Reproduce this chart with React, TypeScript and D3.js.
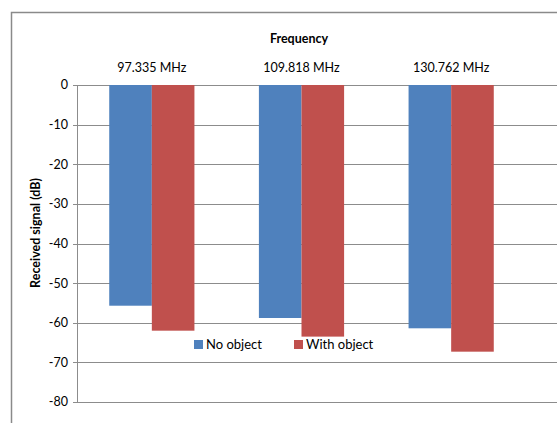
import React from "react";
import * as d3 from "d3";

const categories = ["97.335 MHz", "109.818 MHz", "130.762 MHz"];
const seriesNames = ["No object", "With object"];
const noObject = [-55.7, -58.8, -61.4];
const withObject = [-62.0, -63.5, -67.3];
const yTicks = [0, -10, -20, -30, -40, -50, -60, -70, -80];
const colors = ["#4F81BD", "#C0504D"];

const W = 557;
const H = 423;
const FONT = "Lato, 'Open Sans', sans-serif";

export default function App() {
  const series = [noObject, withObject];
  const y = d3.scaleLinear().domain([0, -80]).range([85, 402]);
  const x = d3.scaleBand<string>().domain(categories).range([77, 526]).paddingInner(0).paddingOuter(0);
  const barW = 42.6;
  const plotLeft = 77;

  return (
    <svg width={W} height={H} style={{ position: "absolute", left: 0, top: 0, background: "#fff" }} fontFamily={FONT}>
      <rect x={0} y={0} width={W} height={H} fill="#fff" />
      <rect x={11.5} y={12.5} width={W + 20} height={H + 20} fill="none" stroke="#8a8a8a" strokeWidth={1.5} />
      {yTicks.map((t) => (
        <line key={"g" + t} x1={plotLeft - 4} x2={W} y1={Math.round(y(t)) + 0.5} y2={Math.round(y(t)) + 0.5} stroke="#8c8c8c" strokeWidth={1} />
      ))}
      <line x1={plotLeft + 0.5} x2={plotLeft + 0.5} y1={y(0)} y2={y(-80)} stroke="#8c8c8c" strokeWidth={1} />
      {yTicks.map((t) => (
        <text key={"t" + t} x={68} y={y(t)} dy="0.35em" textAnchor="end" fontSize={12.5} fill="#000">
          {t}
        </text>
      ))}
      {categories.map((c, i) => {
        const cx = (x(c) as number) + x.bandwidth() / 2;
        return series.map((s, j) => {
          const bx = j === 0 ? cx - barW : cx;
          return (
            <rect key={c + j} x={bx} y={y(0)} width={barW} height={y(s[i]) - y(0)} fill={colors[j]} />
          );
        });
      })}
      {categories.map((c) => (
        <text key={"c" + c} x={(x(c) as number) + x.bandwidth() / 2} y={72} textAnchor="middle" fontSize={12.5} fill="#000">
          {c}
        </text>
      ))}
      <text x={299} y={43} textAnchor="middle" fontSize={12.5} fontWeight="bold" fill="#000">
        Frequency
      </text>
      <text transform={`translate(40, ${233}) rotate(-90)`} textAnchor="middle" fontSize={12.5} fontWeight="bold" fill="#000">
        Received signal (dB)
      </text>
      {seriesNames.map((n, j) => {
        const lx = j === 0 ? 194 : 294;
        return (
          <g key={n}>
            <rect x={lx} y={340} width={9} height={9} fill={colors[j]} />
            <text x={lx + 12} y={349} fontSize={13} fill="#000">
              {n}
            </text>
          </g>
        );
      })}
    </svg>
  );
}
